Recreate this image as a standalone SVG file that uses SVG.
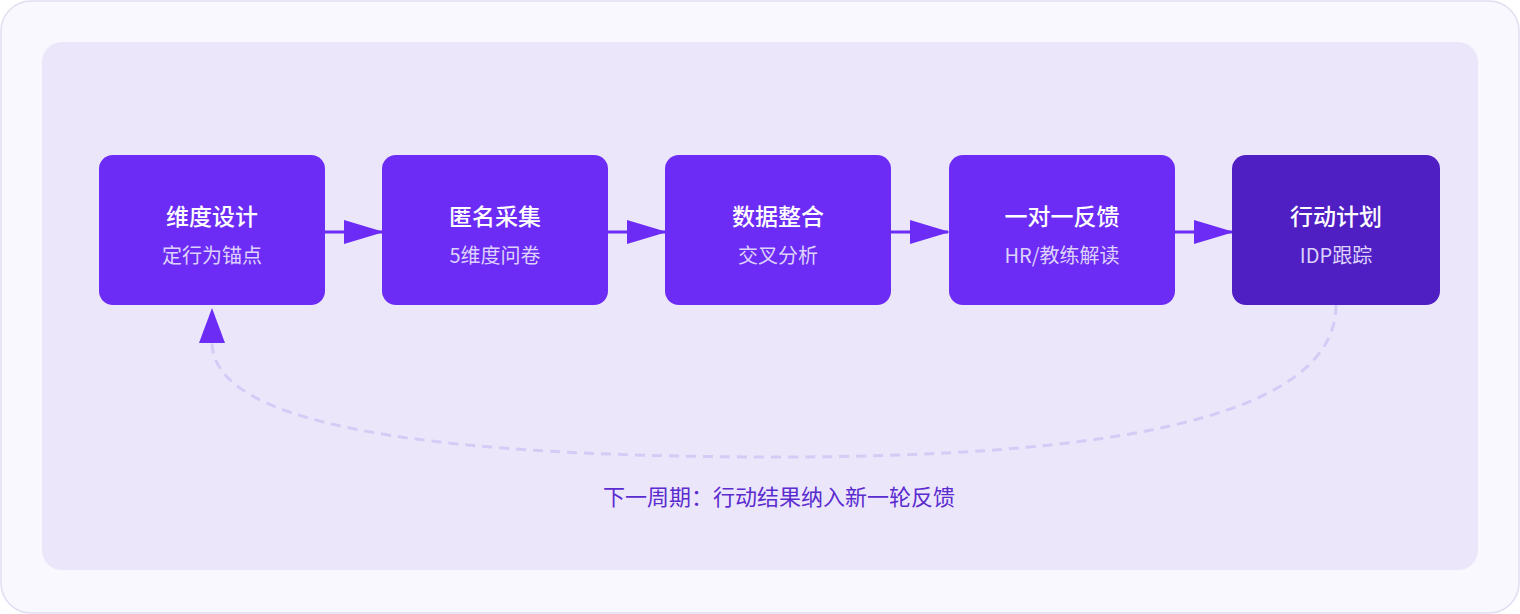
<svg xmlns="http://www.w3.org/2000/svg" width="1520" height="614" viewBox="0 0 1520 614">
<style>
.n{fill:#6d2cf5}
.t{font-family:"Noto Sans CJK SC","Noto Sans",sans-serif;font-size:23px;fill:#fff;text-anchor:middle;font-weight:500}
.s{font-family:"Noto Sans CJK SC","Noto Sans",sans-serif;font-size:20px;fill:#ddd2fd;text-anchor:middle}
.a{stroke:#6d2cf5;stroke-width:3;fill:none}
</style>
<defs><marker id="m" markerWidth="12" markerHeight="12" refX="11" refY="6" orient="auto" markerUnits="userSpaceOnUse" viewBox="0 0 12 12"><path d="M0,0L12,6L0,12z" fill="#6d2cf5"/></marker>
<marker id="h" viewBox="0 0 40 24" markerWidth="40" markerHeight="24" refX="38" refY="12" orient="auto" markerUnits="userSpaceOnUse"><path d="M0,0L40,12L0,24z" fill="#6d2cf5"/></marker></defs>
<rect x="1" y="1" width="1518" height="612" rx="30" fill="#f9f8fe" stroke="#e0def0" stroke-width="1.5"/>
<rect x="42" y="42" width="1436" height="528" rx="20" fill="#ece6fb"/>
<g id="connectors">
<line class="a" x1="325" y1="232" x2="382" y2="232" marker-end="url(#h)"/>
<line class="a" x1="608" y1="232" x2="665" y2="232" marker-end="url(#h)"/>
<line class="a" x1="891" y1="232" x2="948" y2="232" marker-end="url(#h)"/>
<line class="a" x1="1175" y1="232" x2="1232" y2="232" marker-end="url(#h)"/>
<path d="M1336 305 C1336 420 1100 457 779 457 C400 457 212 420 212 342" fill="none" stroke="#d5ccf6" stroke-width="3" stroke-dasharray="10 7"/>
<path d="M199 343 L212 308 L225 343 Z" fill="#6d2cf5"/>
</g>
<g id="n1"><rect class="n" x="99" y="155" width="226" height="150" rx="14"/><text class="t" x="212" y="225">维度设计</text><text class="s" x="212" y="263">定行为锚点</text></g>
<g id="n2"><rect class="n" x="382" y="155" width="226" height="150" rx="14"/><text class="t" x="495" y="225">匿名采集</text><text class="s" x="495" y="263">5维度问卷</text></g>
<g id="n3"><rect class="n" x="665" y="155" width="226" height="150" rx="14"/><text class="t" x="778" y="225">数据整合</text><text class="s" x="778" y="263">交叉分析</text></g>
<g id="n4"><rect class="n" x="949" y="155" width="226" height="150" rx="14"/><text class="t" x="1062" y="225">一对一反馈</text><text class="s" x="1062" y="263">HR/教练解读</text></g>
<g id="n5"><rect x="1232" y="155" width="208" height="150" rx="14" fill="#4f1fc4"/><text class="t" x="1336" y="225">行动计划</text><text class="s" x="1336" y="263">IDP跟踪</text></g>
<text x="779" y="505" font-family="Noto Sans CJK SC,Noto Sans,sans-serif" font-size="22" fill="#5b2ccf" text-anchor="middle">下一周期：行动结果纳入新一轮反馈</text>
</svg>
